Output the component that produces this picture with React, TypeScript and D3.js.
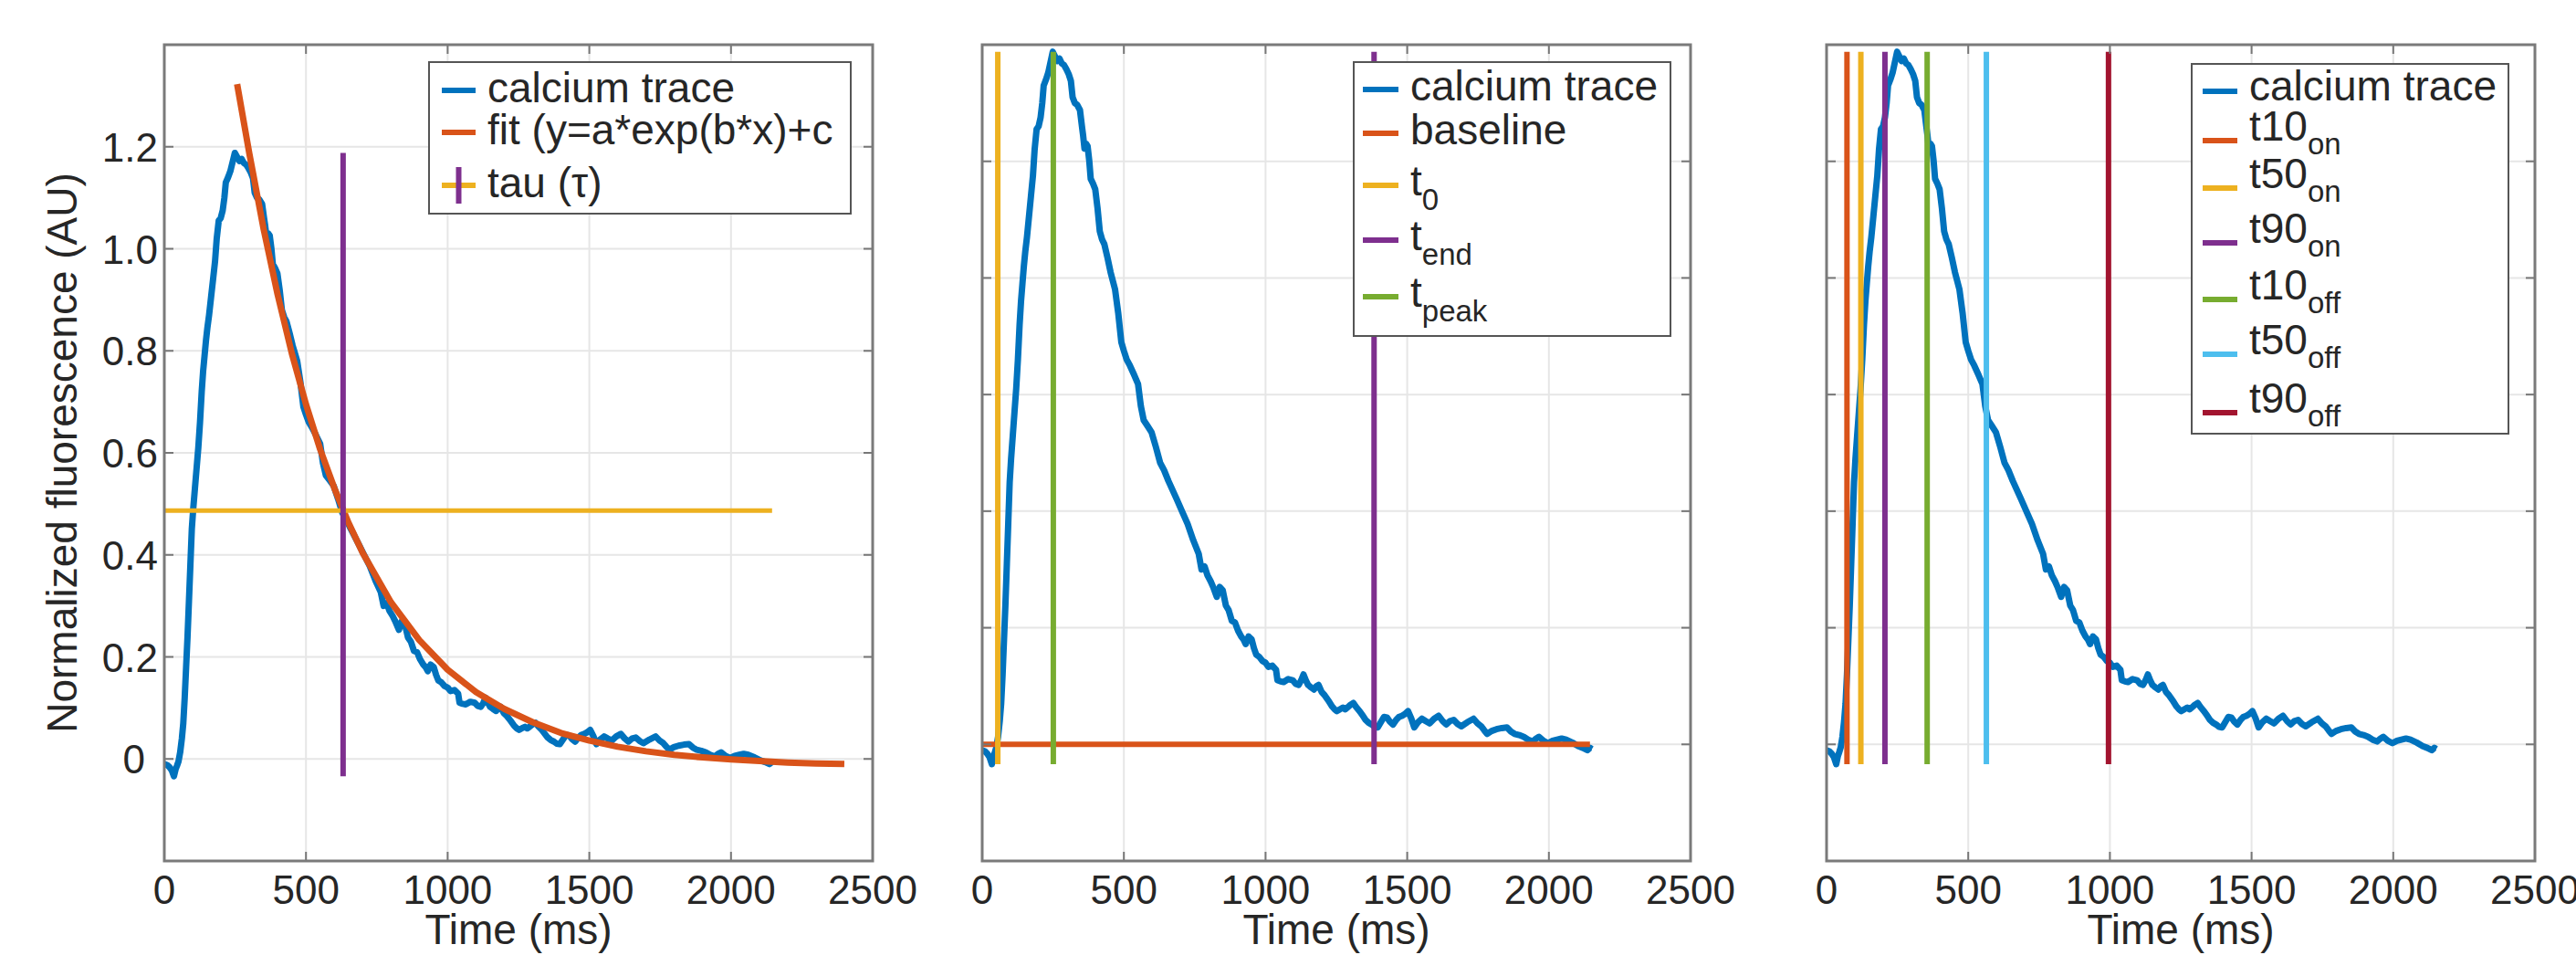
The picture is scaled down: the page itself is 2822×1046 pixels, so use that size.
import React from 'react';
import * as d3 from 'd3';

// ---------- data ----------
const TIME_MS = [0, 10, 18, 26, 34, 40, 45, 50, 56, 62, 67, 72, 77, 82, 87, 92, 97, 102, 108, 114, 120, 126, 132, 137, 142, 147, 152, 158, 165, 172, 179, 185, 192, 199, 206, 212, 217, 225, 233, 241, 249, 257, 265, 273, 281, 289, 297, 305, 313, 319, 327, 335, 345, 352, 356, 361, 367, 372, 378, 383, 391, 399, 407, 415, 423, 431, 442, 453, 461, 469, 480, 491, 500, 510, 521, 535, 550, 560, 570, 585, 598, 613, 628, 642, 657, 672, 687, 705, 725, 745, 764, 774, 785, 795, 806, 815, 828, 838, 849, 860, 870, 881, 892, 903, 914, 922, 930, 940, 951, 959, 967, 978, 989, 1000, 1010, 1024, 1037, 1042, 1053, 1064, 1080, 1096, 1106, 1117, 1126, 1134, 1142, 1150, 1160, 1171, 1180, 1187, 1198, 1209, 1222, 1235, 1244, 1252, 1262, 1273, 1281, 1289, 1300, 1310, 1320, 1332, 1342, 1353, 1364, 1375, 1385, 1396, 1407, 1418, 1429, 1439, 1450, 1461, 1471, 1482, 1492, 1503, 1514, 1525, 1538, 1552, 1565, 1579, 1595, 1611, 1625, 1638, 1651, 1664, 1678, 1691, 1712, 1734, 1748, 1761, 1772, 1782, 1798, 1815, 1834, 1852, 1866, 1879, 1895, 1911, 1927, 1943, 1955, 1965, 1981, 1997, 2013, 2029, 2045, 2061, 2083, 2104, 2120, 2136, 2145, 2152];
const FLUOR = [-0.01, -0.012, -0.016, -0.022, -0.034, -0.02, -0.013, -0.005, 0.013, 0.04, 0.07, 0.12, 0.18, 0.24, 0.31, 0.38, 0.45, 0.49, 0.53, 0.57, 0.61, 0.66, 0.72, 0.76, 0.79, 0.82, 0.845, 0.87, 0.905, 0.94, 0.975, 1.02, 1.055, 1.06, 1.075, 1.1, 1.13, 1.14, 1.152, 1.17, 1.188, 1.18, 1.172, 1.176, 1.168, 1.165, 1.158, 1.15, 1.138, 1.11, 1.1, 1.097, 1.088, 1.06, 1.045, 1.022, 1.03, 1.026, 1.0, 0.97, 0.962, 0.952, 0.92, 0.88, 0.866, 0.858, 0.835, 0.81, 0.795, 0.78, 0.74, 0.69, 0.675, 0.66, 0.65, 0.635, 0.618, 0.58, 0.556, 0.545, 0.535, 0.51, 0.483, 0.47, 0.452, 0.436, 0.42, 0.4, 0.378, 0.35, 0.327, 0.3, 0.305, 0.29, 0.28, 0.27, 0.253, 0.27, 0.264, 0.238, 0.23, 0.212, 0.209, 0.195, 0.185, 0.18, 0.172, 0.185, 0.18, 0.165, 0.154, 0.15, 0.143, 0.14, 0.133, 0.135, 0.128, 0.11, 0.108, 0.107, 0.112, 0.11, 0.104, 0.102, 0.11, 0.12, 0.11, 0.102, 0.098, 0.094, 0.1, 0.102, 0.09, 0.084, 0.075, 0.065, 0.06, 0.057, 0.06, 0.063, 0.06, 0.063, 0.068, 0.071, 0.064, 0.057, 0.05, 0.042, 0.037, 0.034, 0.03, 0.029, 0.038, 0.047, 0.046, 0.039, 0.034, 0.042, 0.047, 0.049, 0.052, 0.057, 0.045, 0.029, 0.038, 0.044, 0.04, 0.036, 0.044, 0.049, 0.04, 0.034, 0.04, 0.042, 0.035, 0.031, 0.038, 0.044, 0.036, 0.031, 0.024, 0.018, 0.023, 0.026, 0.028, 0.029, 0.022, 0.018, 0.016, 0.013, 0.008, 0.005, 0.01, 0.013, 0.006, 0.002, 0.006, 0.008, 0.01, 0.008, 0.003, -0.003, -0.006, -0.01, -0.006, -0.008];

const FIT_TIME = [257, 300, 350, 400, 450, 500, 550, 600, 650, 700, 800, 900, 1000, 1100, 1200, 1300, 1400, 1500, 1600, 1700, 1800, 1900, 2000, 2100, 2200, 2300, 2400];
const FIT_VAL = [1.323, 1.187, 1.04, 0.91, 0.795, 0.695, 0.607, 0.531, 0.463, 0.404, 0.307, 0.233, 0.175, 0.131, 0.098, 0.072, 0.051, 0.036, 0.024, 0.015, 0.008, 0.003, -0.001, -0.004, -0.007, -0.009, -0.01];

const TAU_MS = 631;
const TAU_LEVEL = 0.487;
const TAU_LINE_END_MS = 2145;
const MARKER_MIN = -0.034;
const MARKER_MAX = 1.188;

const BASELINE_VALUE = 0;
const BASELINE_END_MS = 2145;
const T0_MS = 55;
const TEND_MS = 1383;
const TPEAK_MS = 251;

const KIN_NAMES = ['t10', 't50', 't90', 't10', 't50', 't90'];
const KIN_SUBS = ['on', 'on', 'on', 'off', 'off', 'off'];
const KIN_MS = [72, 121, 206, 355, 564, 995];

const X_TICKS = [0, 500, 1000, 1500, 2000, 2500];
const X_DOMAIN = [0, 2500];
const Y_DOMAIN_P1 = [-0.2, 1.4];
const Y_DOMAIN_P23 = [-0.2, 1.2];
const Y_TICKS_P1 = [0, 0.2, 0.4, 0.6, 0.8, 1.0, 1.2];
const Y_TICK_LABELS_P1 = ['0', '0.2', '0.4', '0.6', '0.8', '1.0', '1.2'];
const Y_TICKS_P23 = [0, 0.2, 0.4, 0.6, 0.8, 1.0];

const X_LABEL = 'Time (ms)';
const Y_LABEL = 'Normalized fluorescence (AU)';

// ---------- styling ----------
const C_BLUE = '#0072BD';
const C_ORANGE = '#D95319';
const C_YELLOW = '#EDB120';
const C_PURPLE = '#7E2F8E';
const C_GREEN = '#77AC30';
const C_CYAN = '#4DBEEE';
const C_RED = '#A2142F';
const KIN_COLORS = [C_ORANGE, C_YELLOW, C_PURPLE, C_GREEN, C_CYAN, C_RED];

const FONT = '"Liberation Sans", Arial, Helvetica, sans-serif';
const TXT = '#262626';
const FS = 46;
const TICK_FS = 44;
const SUB_FS = 33;

const TOP = 49;
const BOTTOM = 943;
const PW = 776;
const LEFTS = [180, 1076, 2001];

const traceData = TIME_MS.map((t, i) => [t, FLUOR[i]] as [number, number]);
const fitData = FIT_TIME.map((t, i) => [t, FIT_VAL[i]] as [number, number]);

function Axes({ left, yDomain, yGrid, id, children }: any) {
  const x = d3.scaleLinear().domain(X_DOMAIN).range([left, left + PW]);
  const y = d3.scaleLinear().domain(yDomain).range([BOTTOM, TOP]);
  const tickLen = 10;
  return (
    <g>
      <defs>
        <clipPath id={id}>
          <rect x={left} y={TOP} width={PW} height={BOTTOM - TOP} />
        </clipPath>
      </defs>
      <rect x={left} y={TOP} width={PW} height={BOTTOM - TOP} fill="#fff" />
      {X_TICKS.slice(1, -1).map((t) => (
        <line key={'gx' + t} x1={x(t)} x2={x(t)} y1={TOP} y2={BOTTOM} stroke="#e6e6e6" strokeWidth={2} />
      ))}
      {yGrid.map((v: number) => (
        <line key={'gy' + v} x1={left} x2={left + PW} y1={y(v)} y2={y(v)} stroke="#e6e6e6" strokeWidth={2} />
      ))}
      <g clipPath={`url(#${id})`}>{children(x, y)}</g>
      {X_TICKS.map((t) => (
        <g key={'tx' + t}>
          <line x1={x(t)} x2={x(t)} y1={BOTTOM} y2={BOTTOM - tickLen} stroke="#777" strokeWidth={2} />
          <line x1={x(t)} x2={x(t)} y1={TOP} y2={TOP + tickLen} stroke="#777" strokeWidth={2} />
        </g>
      ))}
      {yGrid.map((v: number) => (
        <g key={'ty' + v}>
          <line x1={left} x2={left + tickLen} y1={y(v)} y2={y(v)} stroke="#777" strokeWidth={2} />
          <line x1={left + PW} x2={left + PW - tickLen} y1={y(v)} y2={y(v)} stroke="#777" strokeWidth={2} />
        </g>
      ))}
      <rect x={left} y={TOP} width={PW} height={BOTTOM - TOP} fill="none" stroke="#7a7a7a" strokeWidth={3} />
      {X_TICKS.map((t) => (
        <text key={'lx' + t} x={x(t)} y={990} textAnchor="middle" fontSize={TICK_FS} fontFamily={FONT} fill={TXT}>
          {t}
        </text>
      ))}
      <text x={left + PW / 2} y={1034} textAnchor="middle" fontSize={FS} fontFamily={FONT} fill={TXT}>
        {X_LABEL}
      </text>
    </g>
  );
}

function Legend({ box, sampleX, textX, rows }: any) {
  return (
    <g>
      <rect x={box[0]} y={box[1]} width={box[2] - box[0]} height={box[3] - box[1]} fill="#fff" stroke="#555" strokeWidth={2} />
      {rows.map((r: any, i: number) => (
        <g key={i}>
          <line x1={sampleX[0]} x2={sampleX[1]} y1={r.y} y2={r.y} stroke={r.color} strokeWidth={6} />
          {r.marker && (
            <line x1={(sampleX[0] + sampleX[1]) / 2} x2={(sampleX[0] + sampleX[1]) / 2} y1={r.y - 20} y2={r.y + 20} stroke={r.marker} strokeWidth={6} />
          )}
          {r.sub ? (
            <text x={textX} y={r.y + r.mainDy} fontSize={FS} fontFamily={FONT} fill={TXT}>
              {r.label}
              <tspan dy={r.subDy - r.mainDy} fontSize={SUB_FS}>{r.sub}</tspan>
            </text>
          ) : (
            <text x={textX} y={r.y + r.plainDy} fontSize={FS} fontFamily={FONT} fill={TXT}>
              {r.label}
            </text>
          )}
        </g>
      ))}
    </g>
  );
}

export default function App() {
  const line = (x: any, y: any) =>
    d3
      .line<[number, number]>()
      .x((d) => x(d[0]))
      .y((d) => y(d[1]));

  const p1Rows = [
    { y: 99, color: C_BLUE, label: 'calcium trace', plainDy: 13 },
    { y: 145, color: C_ORANGE, label: 'fit (y=a*exp(b*x)+c', plainDy: 13 },
    { y: 203, color: C_YELLOW, marker: C_PURPLE, label: 'tau (τ)', plainDy: 13 },
  ];
  const p2Rows = [
    { y: 98, color: C_BLUE, label: 'calcium trace', plainDy: 12 },
    { y: 146, color: C_ORANGE, label: 'baseline', plainDy: 12 },
    { y: 203, color: C_YELLOW, label: 't', sub: '0', mainDy: 11, subDy: 27 },
    { y: 263, color: C_PURPLE, label: 't', sub: 'end', mainDy: 11, subDy: 27 },
    { y: 325, color: C_GREEN, label: 't', sub: 'peak', mainDy: 11, subDy: 27 },
  ];
  const p3Ys = [154, 206, 266, 328, 388, 452];
  const p3Rows = [
    { y: 100, color: C_BLUE, label: 'calcium trace', plainDy: 10 },
    ...KIN_NAMES.map((n, i) => ({ y: p3Ys[i], color: KIN_COLORS[i], label: n, sub: KIN_SUBS[i], mainDy: 0, subDy: 15 })),
  ];

  const yP1 = d3.scaleLinear().domain(Y_DOMAIN_P1).range([BOTTOM, TOP]);

  return (
    <svg width={2822} height={1046} style={{ position: 'absolute', left: 0, top: 0, background: '#fff' }}>
      <rect x={0} y={0} width={2822} height={1046} fill="#fff" />

      {/* Panel 1 */}
      <Axes left={LEFTS[0]} yDomain={Y_DOMAIN_P1} yGrid={Y_TICKS_P1} id="c1">
        {(x: any, y: any) => (
          <g fill="none">
            <path d={line(x, y)(traceData) || ''} stroke={C_BLUE} strokeWidth={7} strokeLinejoin="round" />
            <path d={line(x, y)(fitData) || ''} stroke={C_ORANGE} strokeWidth={7} strokeLinejoin="round" />
            <line x1={x(0)} x2={x(TAU_LINE_END_MS)} y1={y(TAU_LEVEL)} y2={y(TAU_LEVEL)} stroke={C_YELLOW} strokeWidth={5} />
            <line x1={x(TAU_MS)} x2={x(TAU_MS)} y1={y(MARKER_MIN)} y2={y(MARKER_MAX)} stroke={C_PURPLE} strokeWidth={6} />
          </g>
        )}
      </Axes>
      {Y_TICKS_P1.map((v, i) => (
        <text key={'yl' + v} x={v === 0 ? 159 : 173} y={yP1(v) + 16} textAnchor="end" fontSize={TICK_FS} fontFamily={FONT} fill={TXT}>
          {Y_TICK_LABELS_P1[i]}
        </text>
      ))}
      <text transform={`translate(84, ${(TOP + BOTTOM) / 2}) rotate(-90)`} textAnchor="middle" fontSize={FS} fontFamily={FONT} fill={TXT}>
        {Y_LABEL}
      </text>
      <Legend box={[470, 68, 932, 234]} sampleX={[484, 521]} textX={534} rows={p1Rows} />

      {/* Panel 2 */}
      <Axes left={LEFTS[1]} yDomain={Y_DOMAIN_P23} yGrid={Y_TICKS_P23} id="c2">
        {(x: any, y: any) => (
          <g fill="none">
            <path d={line(x, y)(traceData) || ''} stroke={C_BLUE} strokeWidth={7} strokeLinejoin="round" />
            <line x1={x(0)} x2={x(BASELINE_END_MS)} y1={y(BASELINE_VALUE)} y2={y(BASELINE_VALUE)} stroke={C_ORANGE} strokeWidth={6} />
            <line x1={x(T0_MS)} x2={x(T0_MS)} y1={y(MARKER_MIN)} y2={y(MARKER_MAX)} stroke={C_YELLOW} strokeWidth={6} />
            <line x1={x(TEND_MS)} x2={x(TEND_MS)} y1={y(MARKER_MIN)} y2={y(MARKER_MAX)} stroke={C_PURPLE} strokeWidth={6} />
            <line x1={x(TPEAK_MS)} x2={x(TPEAK_MS)} y1={y(MARKER_MIN)} y2={y(MARKER_MAX)} stroke={C_GREEN} strokeWidth={6} />
          </g>
        )}
      </Axes>
      <Legend box={[1483, 68, 1830, 368]} sampleX={[1493, 1532]} textX={1545} rows={p2Rows} />

      {/* Panel 3 */}
      <Axes left={LEFTS[2]} yDomain={Y_DOMAIN_P23} yGrid={Y_TICKS_P23} id="c3">
        {(x: any, y: any) => (
          <g fill="none">
            <path d={line(x, y)(traceData) || ''} stroke={C_BLUE} strokeWidth={7} strokeLinejoin="round" />
            {KIN_MS.map((t, i) => (
              <line key={i} x1={x(t)} x2={x(t)} y1={y(MARKER_MIN)} y2={y(MARKER_MAX)} stroke={KIN_COLORS[i]} strokeWidth={6} />
            ))}
          </g>
        )}
      </Axes>
      <Legend box={[2401, 70, 2748, 475]} sampleX={[2413, 2451]} textX={2464} rows={p3Rows} />
    </svg>
  );
}
